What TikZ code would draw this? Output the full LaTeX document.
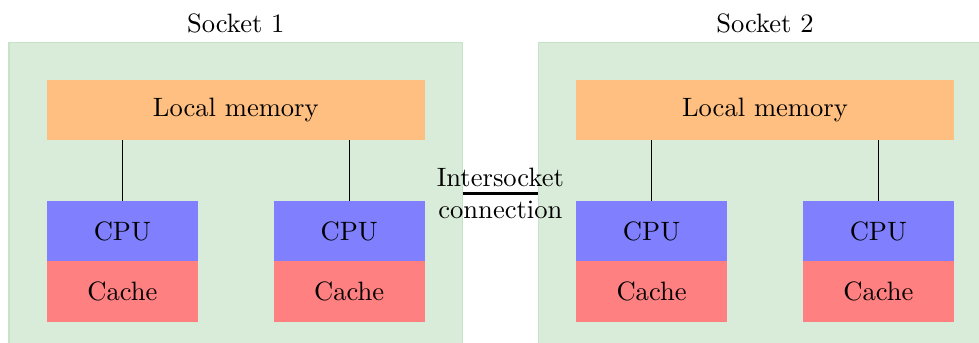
\documentclass[tikz,border=0pt]{standalone}
\usetikzlibrary{positioning}
\definecolor{sockfill}{rgb}{0.85,0.925,0.85}
\definecolor{sockdraw}{rgb}{0.78,0.89,0.78}
\tikzset{
  socketbox/.style={fill=sockfill, draw=sockdraw, minimum width=6cm, minimum height=4.2cm, anchor=north west, inner sep=0pt, outer sep=0pt},
  membox/.style={fill=orange!50, minimum width=5cm, minimum height=0.8cm, inner sep=0pt, outer sep=0pt},
  cpubox/.style={fill=blue!50, minimum width=2cm, minimum height=0.8cm, inner sep=0pt, outer sep=0pt},
  cachebox/.style={fill=red!50, minimum width=2cm, minimum height=0.8cm, inner sep=0pt, outer sep=0pt},
  wire/.style={draw=black, line width=0.4pt}
}
\begin{document}
\begin{tikzpicture}
\path[use as bounding box] (-0.119,0.556) rectangle (12.831,-3.981);
\clip (-0.119,0.556) rectangle (12.831,-3.981);
% sockets
\node[socketbox, label={above:Socket 1}] (s1) at (0,0) {};
\node[socketbox, label={above:Socket 2}] (s2) at (7,0) {};
% socket 1 contents
\node[membox] (m1) at (3,-0.9) {Local memory};
\node[cpubox] (c1a) at (1.5,-2.5) {CPU};
\node[cachebox] (k1a) at (1.5,-3.3) {Cache};
\node[cpubox] (c1b) at (4.5,-2.5) {CPU};
\node[cachebox] (k1b) at (4.5,-3.3) {Cache};
% socket 2 contents
\node[membox] (m2) at (10,-0.9) {Local memory};
\node[cpubox] (c2a) at (8.5,-2.5) {CPU};
\node[cachebox] (k2a) at (8.5,-3.3) {Cache};
\node[cpubox] (c2b) at (11.5,-2.5) {CPU};
\node[cachebox] (k2b) at (11.5,-3.3) {Cache};
% memory to cpu lines
\draw[wire] (c1a.north) -- (c1a.north |- m1.south);
\draw[wire] (c1b.north) -- (c1b.north |- m1.south);
\draw[wire] (c2a.north) -- (c2a.north |- m2.south);
\draw[wire] (c2b.north) -- (c2b.north |- m2.south);
% intersocket connection
\node[align=center, inner sep=0pt] (inter) at (6.5,-2) {Intersocket\\connection};
\draw[very thick] (inter -| s1.east) -- (inter -| s2.west);
\end{tikzpicture}
\end{document}
